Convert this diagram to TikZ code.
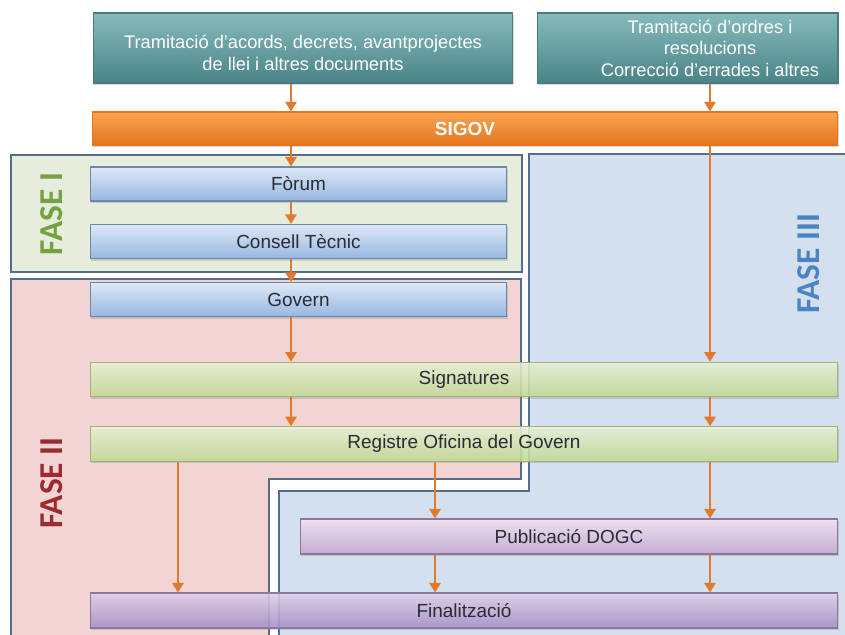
\documentclass[tikz,border=0pt]{standalone}
\usepackage{fontspec}
\setmainfont{Liberation Sans}
\newfontfamily\fasefont{Carlito}
\usetikzlibrary{arrows.meta,shadows}

\definecolor{tealtop}{HTML}{86BABC}
\definecolor{tealbot}{HTML}{4A8487}
\definecolor{tealvora}{HTML}{4A7B7E}
\definecolor{tarongtop}{HTML}{F8A452}
\definecolor{tarongbot}{HTML}{E5761E}
\definecolor{blautop}{HTML}{DEE8F6}
\definecolor{blaubot}{HTML}{97B7E1}
\definecolor{blauvora}{HTML}{6C86AC}
\definecolor{verdtop}{HTML}{EBF4D8}
\definecolor{verdbot}{HTML}{C3DD95}
\definecolor{verdvora}{HTML}{9DB47C}
\definecolor{liltop}{HTML}{F2E5F3}
\definecolor{lilbot}{HTML}{C6AAD6}
\definecolor{lilvora}{HTML}{8C779C}
\definecolor{moradatop}{HTML}{E2D3EC}
\definecolor{moradabot}{HTML}{A68FC8}
\definecolor{fletxa}{HTML}{E07A2E}
\definecolor{vorafase}{HTML}{566C8C}
\definecolor{fonsI}{HTML}{E7EDDD}
\definecolor{fonsII}{HTML}{F2D4D3}
\definecolor{fonsIII}{HTML}{D5E0EE}
\definecolor{textI}{HTML}{76A140}
\definecolor{textII}{HTML}{9C2B30}
\definecolor{textIII}{HTML}{4B84C5}
\definecolor{lletra}{HTML}{2B2B33}

\tikzset{
  fase/.style={draw=vorafase, line width=1pt},
  fasetext/.style={rotate=90, font=\fasefont\bfseries\fontsize{19}{19}\selectfont},
  caixa/.style={rectangle, line width=0.6pt, text=lletra, text opacity=1,
    font=\fontsize{10.8}{13}\selectfont,
    drop shadow={shadow xshift=0.6pt, shadow yshift=-1.2pt, opacity=0.3}},
  ordre/.style={caixa, top color=tealtop, bottom color=tealbot, draw=tealvora,
    minimum height=1.4cm},
  ordretext/.style={text=white, align=center, font=\fontsize{10.4}{12.2}\selectfont},
  sigovbox/.style={caixa, top color=tarongtop, bottom color=tarongbot, draw=tarongbot,
    text=white, font=\bfseries\fontsize{10.8}{13}\selectfont,
    minimum width=14.92cm, minimum height=0.66cm},
  blau/.style={caixa, top color=blautop, bottom color=blaubot, draw=blauvora,
    minimum width=8.34cm, minimum height=0.68cm},
  verd/.style={caixa, top color=verdtop, bottom color=verdbot, draw=verdvora,
    fill opacity=0.85, minimum width=14.96cm, minimum height=0.69cm},
  lila/.style={caixa, top color=liltop, bottom color=lilbot, draw=lilvora,
    fill opacity=0.9, minimum height=0.7cm},
  morada/.style={caixa, top color=moradatop, bottom color=moradabot, draw=lilvora,
    fill opacity=0.85, minimum width=14.96cm, minimum height=0.7cm},
  flux/.style={draw=fletxa, line width=1.1pt, -{Triangle[width=6.5pt,length=5.5pt]}}
}

\begin{document}
\begin{tikzpicture}[x=0.02cm, y=-0.02cm]
    \useasboundingbox (0,0) rectangle (845,635);

    % 画三个阶段的区域
    \draw[fase, fill=fonsI] (11,155) rectangle (522,272);
    \draw[fase, fill=fonsII] (11,279) -- (521,279) -- (521,479) -- (269,479)
        -- (269,660) -- (11,660) -- cycle;
    \draw[fase, fill=fonsIII] (529,154) -- (870,154) -- (870,660) -- (279,660)
        -- (279,491) -- (529,491) -- cycle;

    \node[fasetext, text=textI] (faseI) at (52,214) {FASE I};
    \node[fasetext, text=textII] (faseII) at (52,483) {FASE II};
    \node[fasetext, text=textIII] (faseIII) at (809,264) {FASE III};

    % 画方框
    \node[ordre, minimum width=8.4cm,
        label={[ordretext, yshift=-0.1cm]center:{Tramitació d’acords, decrets, avantprojectes\\de llei i altres documents}}]
        (acords) at (303,48) {};
    \node[ordre, minimum width=6.02cm,
        label={[ordretext, xshift=0.45cm]center:{Tramitació d’ordres i\\resolucions\\Correcció d’errades i altres}}]
        (ordres) at (687.5,48) {};
    \node[sigovbox] (sigov) at (465,128.5) {SIGOV};
    \node[blau] (forum) at (298.5,184) {Fòrum};
    \node[blau] (consell) at (298.5,241.5) {Consell Tècnic};
    \node[blau] (govern) at (298.5,299.5) {Govern};
    \node[verd] (signatures) at (464,379.5) {Signatures};
    \node[verd] (registre) at (464,444) {Registre Oficina del Govern};
    \node[lila, minimum width=10.76cm] (dogc) at (569,536.5) {Publicació DOGC};
    \node[morada] (final) at (464,610.5) {Finalització};

    % 画箭头
    \coordinate (colA) at (178,0);
    \coordinate (colB) at (291,0);
    \coordinate (colC) at (435,0);
    \coordinate (colD) at (710,0);
    \draw[flux] (acords.south -| colB) -- (sigov.north -| colB);
    \draw[flux] (ordres.south -| colD) -- (sigov.north -| colD);
    \draw[flux] (sigov.south -| colB) -- (forum.north -| colB);
    \draw[flux] (forum.south -| colB) -- (consell.north -| colB);
    \draw[flux] (consell.south -| colB) -- (govern.north -| colB);
    \draw[flux] (govern.south -| colB) -- (signatures.north -| colB);
    \draw[flux] (signatures.south -| colB) -- (registre.north -| colB);
    \draw[flux] (sigov.south -| colD) -- (signatures.north -| colD);
    \draw[flux] (signatures.south -| colD) -- (registre.north -| colD);
    \draw[flux] (registre.south -| colA) -- (final.north -| colA);
    \draw[flux] (registre.south -| colC) -- (dogc.north -| colC);
    \draw[flux] (registre.south -| colD) -- (dogc.north -| colD);
    \draw[flux] (dogc.south -| colC) -- (final.north -| colC);
    \draw[flux] (dogc.south -| colD) -- (final.north -| colD);
\end{tikzpicture}
\end{document}
